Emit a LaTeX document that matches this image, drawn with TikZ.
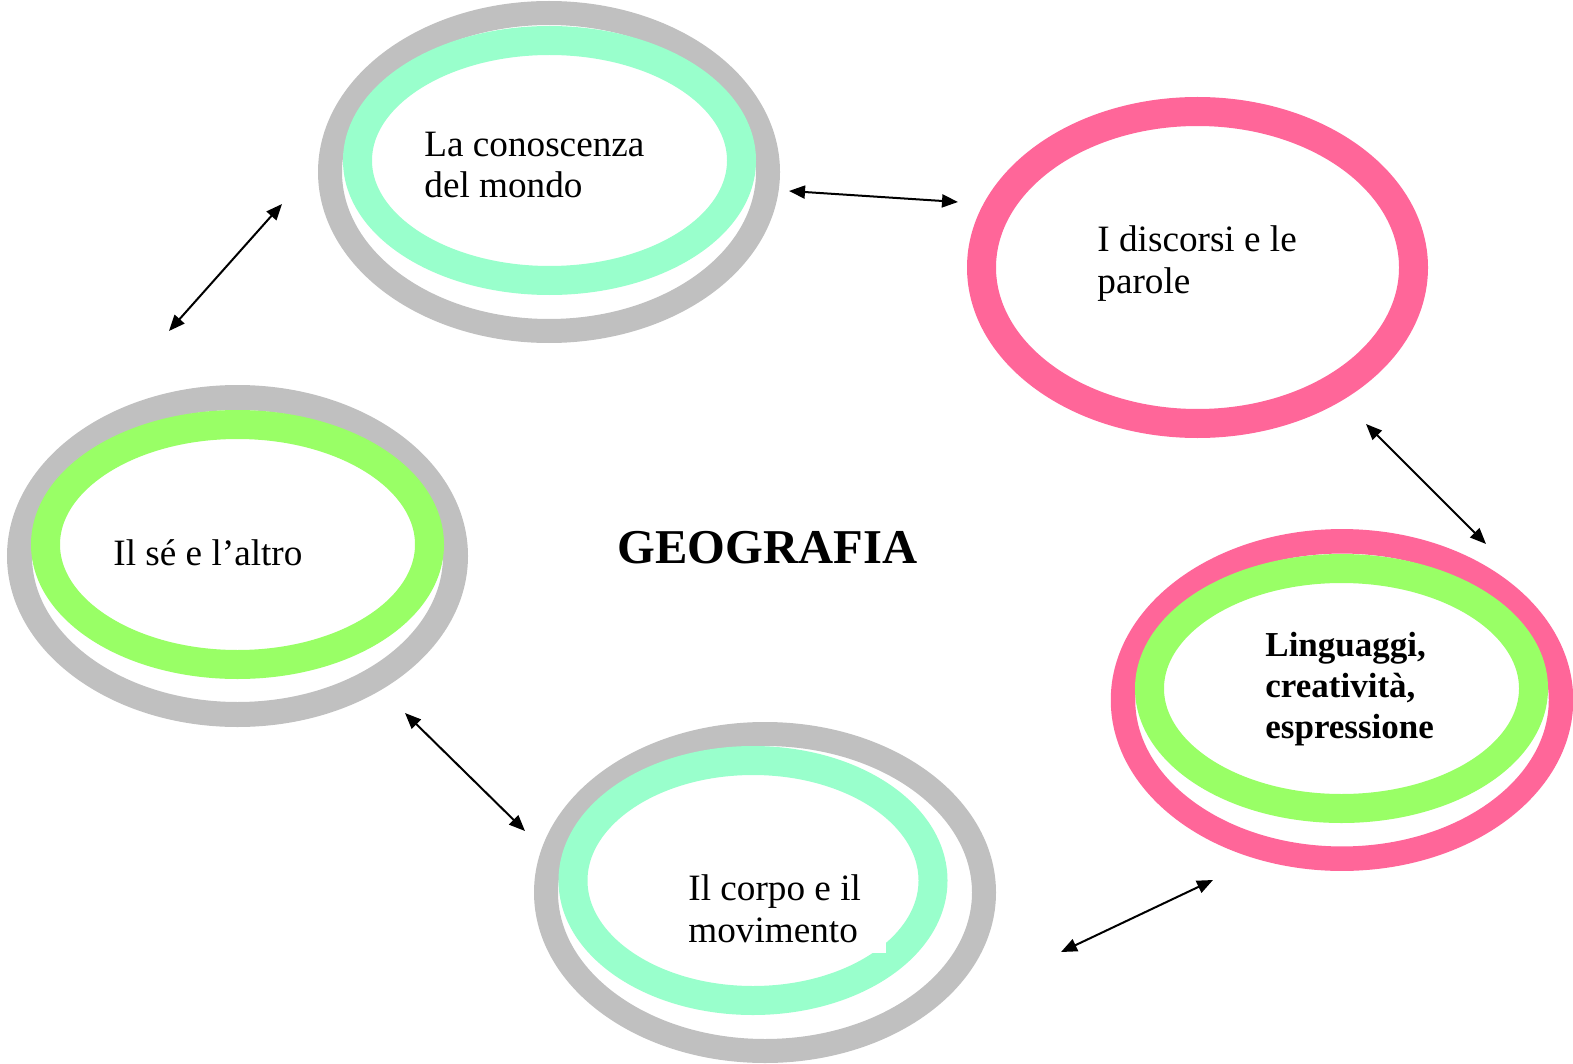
\documentclass[tikz,border=0pt]{standalone}
\usepackage{fontspec}
\setmainfont{Liberation Serif}
\usepackage{tikz}
\usetikzlibrary{shapes.geometric,arrows.meta}
\definecolor{grigio}{HTML}{C0C0C0}
\definecolor{acqua}{HTML}{99FFCC}
\definecolor{verde}{HTML}{99FF66}
\definecolor{rosa}{HTML}{FF6699}
\begin{document}
\begin{tikzpicture}[x = 0.5pt, y = -0.5pt,
	ring/.style = {ellipse, draw, fill = white, inner sep = 0pt},
	lab/.style = {align = left, anchor = base west, inner sep = 0pt, font = \fontsize{18.6}{20.8}\selectfont},
	link/.style = {{Triangle[length=8pt,width=6.5pt]}-{Triangle[length=8pt,width=6.5pt]}, line width = 1pt}]
	\useasboundingbox (0,0) rectangle (1573,1064);
	\node [ring, draw = grigio, line width = 12pt, minimum width = 219pt, minimum height = 159pt] (mondo) at (549,172) {};
	\node [ring, draw = acqua, line width = 14.5pt, minimum width = 192pt, minimum height = 120pt] (mondoin) at (549.5,160.5) {};
	\node [ring, draw = rosa, line width = 14.5pt, minimum width = 216pt, minimum height = 156pt] (discorsi) at (1197.5,267.5) {};
	\node [ring, draw = grigio, line width = 12.5pt, minimum width = 218pt, minimum height = 158.5pt] (se) at (237.5,556) {};
	\node [ring, draw = verde, line width = 14.5pt, minimum width = 192pt, minimum height = 120pt] (sein) at (237.5,544.5) {};
	\node [ring, draw = rosa, line width = 12.25pt, minimum width = 219pt, minimum height = 158.7pt] (linguaggi) at (1342,700) {};
	\node [ring, draw = verde, line width = 14.5pt, minimum width = 192pt, minimum height = 120pt] (linguaggiin) at (1341.5,688.5) {};
	\node [ring, draw = grigio, line width = 12pt, minimum width = 219pt, minimum height = 158.5pt] (corpo) at (765,892.5) {};
	\node [ring, draw = acqua, line width = 14.5pt, minimum width = 180pt, minimum height = 120pt] (corpoin) at (753,880.5) {};
	\fill [white] (870,930) rectangle (886,953);
	\node [lab] (tmondo) at (424,198) {La conoscenza\\del mondo};
	\node [lab] (tdiscorsi) at (1097,293) {I discorsi e le\\parole};
	\node [lab] (tse) at (113,565) {Il sé e l'altro};
	\node [lab, font = \fontsize{17.5}{20.3}\selectfont\bfseries] (tlinguaggi) at (1265,738) {Linguaggi,\\creatività,\\espressione};
	\node [lab] (tcorpo) at (688,942) {Il corpo e il\\movimento};
	\node [lab, font = \fontsize{24.3}{28}\selectfont\bfseries] (titolo) at (617,563) {GEOGRAFIA};
	\coordinate (a1) at (169,331);
	\coordinate (b1) at (282,204);
	\coordinate (a2) at (789,191);
	\coordinate (b2) at (958,202);
	\coordinate (a3) at (1366,424);
	\coordinate (b3) at (1486,544);
	\coordinate (a4) at (405,713);
	\coordinate (b4) at (525,831);
	\coordinate (a5) at (1061,952);
	\coordinate (b5) at (1213,880);
	\foreach \i in {1,...,5}{
		\draw [link] (a\i) -- (b\i);
	}
\end{tikzpicture}
\end{document}
